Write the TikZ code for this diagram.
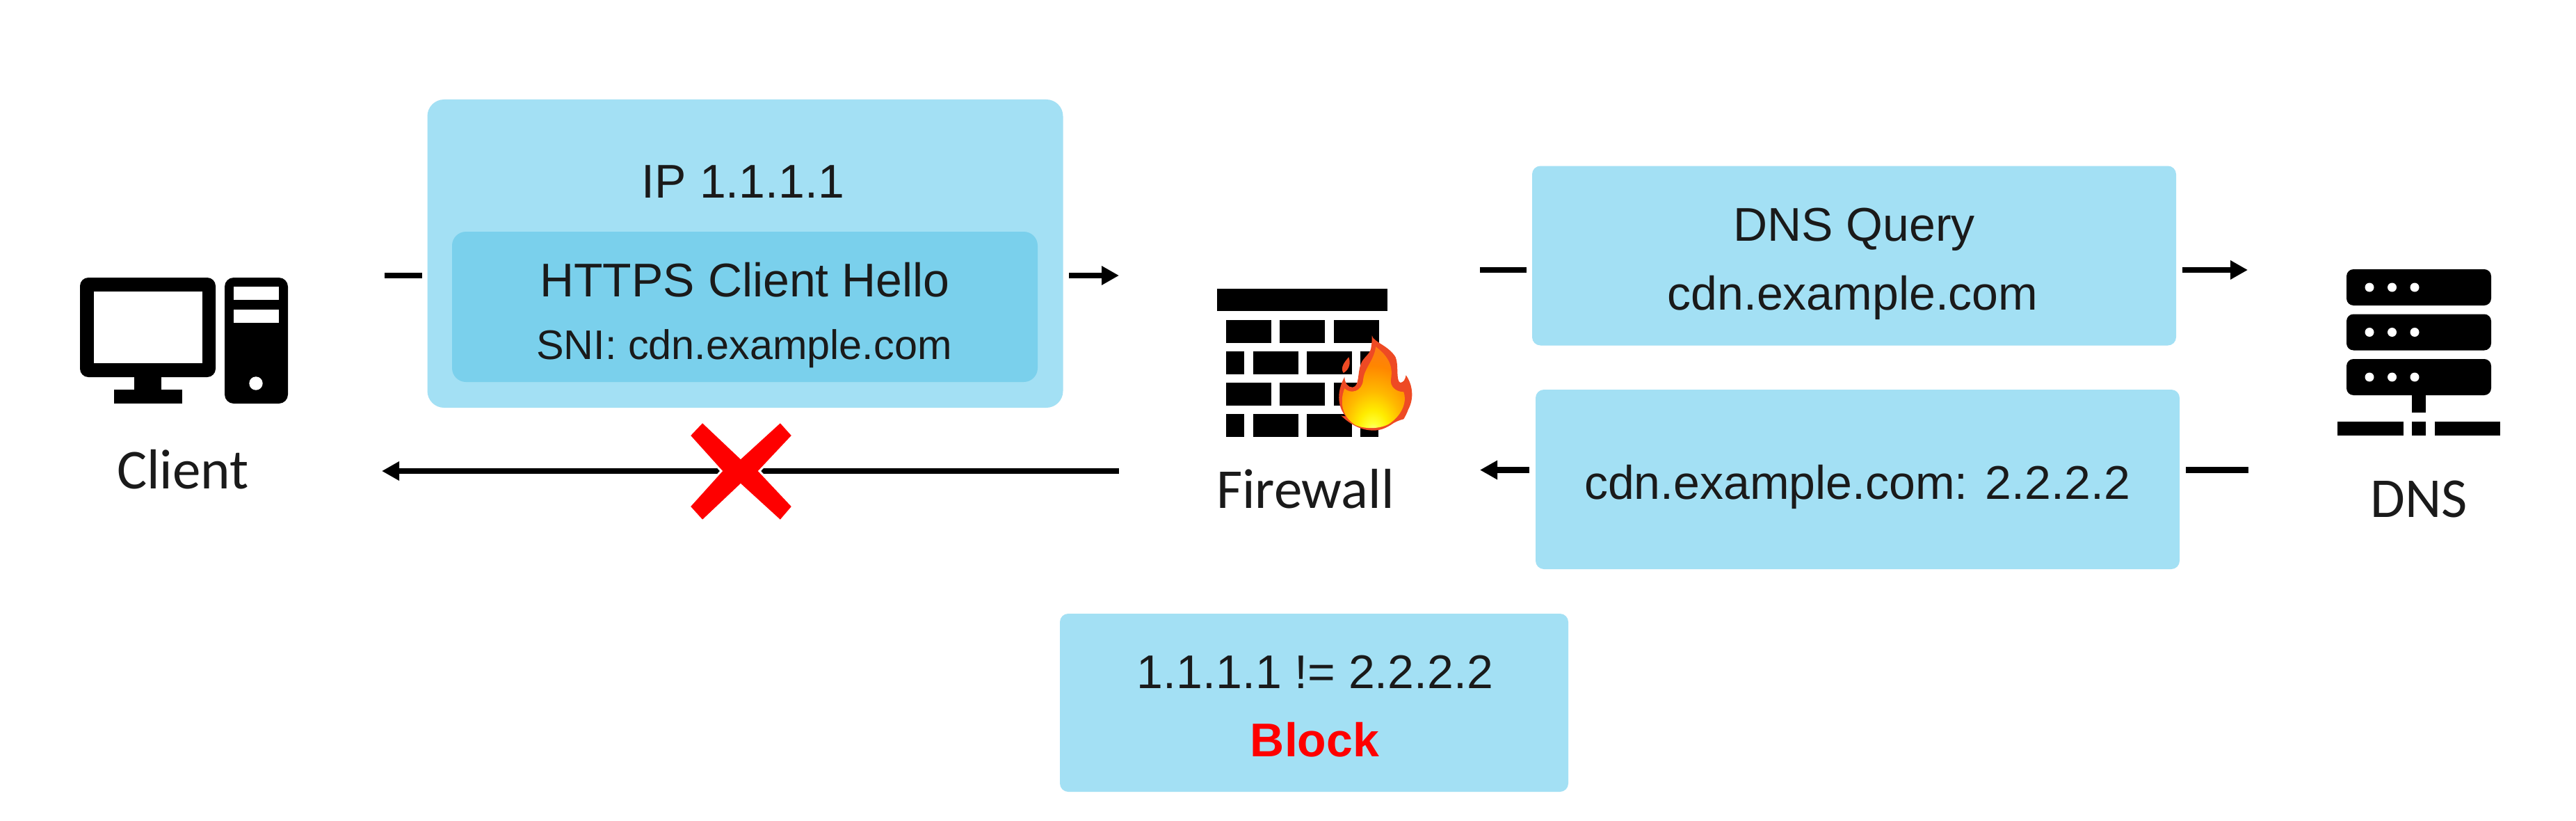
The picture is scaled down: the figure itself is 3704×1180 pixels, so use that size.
\documentclass[tikz,border=0pt]{standalone}
\usepackage{fontspec}
\setmainfont{Liberation Sans}
\newfontfamily\labelfont{Carlito}
\usetikzlibrary{arrows.meta}
\definecolor{boxblue}{HTML}{A3E0F4}
\definecolor{innerblue}{HTML}{7AD0EC}
\definecolor{ink}{HTML}{1A1A1A}
\definecolor{blockred}{HTML}{FE0000}
\definecolor{flameedge}{HTML}{EE4A24}
\definecolor{flameorange}{HTML}{F9752A}
\pgfdeclareradialshading{flamecore}{\pgfpoint{0bp}{-27bp}}{
  color(0bp)=(white!70!yellow);
  color(5bp)=(white!20!yellow);
  color(11bp)=(yellow!85!orange);
  color(20bp)=(orange!55!yellow);
  color(32bp)=(orange!95!yellow);
  color(50bp)=(flameorange);
  color(100bp)=(flameorange)}
\tikzset{
  panel/.style={fill=boxblue,draw=none,rounded corners=12pt,inner sep=0pt},
  outerpanel/.style={panel,rounded corners=24pt},
  innerpanel/.style={panel,fill=innerblue,rounded corners=20pt},
  msg/.style={anchor=base,inner sep=0pt,text=ink,font=\fontsize{68}{80}\selectfont},
  sni/.style={msg,font=\fontsize{59.4}{70}\selectfont},
  blocktext/.style={msg,text=blockred,font=\bfseries\fontsize{68}{80}\selectfont},
  iconlabel/.style={anchor=base,inner sep=0pt,text=ink,font=\labelfont\fontsize{81}{96}\selectfont},
  flow/.style={draw=black,line width=8.5pt},
  flowarrow/.style={flow,-{Triangle[length=25pt,width=26pt]}},
  brick/.style={fill=black,draw=none}
}
\begin{document}
\begin{tikzpicture}[x=1pt,y=-1pt]
\useasboundingbox (0,0) rectangle (3704,1180);
\fill[white] (0,0) rectangle (3704,1180);

% panels
\node[outerpanel,minimum width=914pt,minimum height=443pt] (ip) at (1071.5,364.5) {};
\node[innerpanel,minimum width=842pt,minimum height=216pt] (hello) at (1071,441) {};
\node[panel,minimum width=926pt,minimum height=258pt] (query) at (2666,367.5) {};
\node[panel,minimum width=926pt,minimum height=258pt] (answer) at (2671,689) {};
\node[panel,minimum width=731pt,minimum height=256pt] (verdict) at (1889.5,1010) {};

% panel texts
\node[msg] (iptext) at (1068.5,284) {IP 1.1.1.1};
\node[msg] (hellotext) at (1071,426) {HTTPS Client Hello};
\node[sni] (snitext) at (1070,516) {SNI: cdn.example.com};
\node[msg] (querytext) at (2666,346) {DNS Query};
\node[msg] (querydomain) at (2664,445) {cdn.example.com};
\node[msg] (answertext) at (2670.5,717) {cdn.example.com: 2.2.2.2};
\node[msg] (comparetext) at (1891,989) {1.1.1.1 != 2.2.2.2};
\node[blocktext] (blockword) at (1890.5,1087) {Block};

% connector end points
\coordinate (c1a) at (553,396);  \coordinate (c1b) at (607,396);
\coordinate (c2a) at (1537,396); \coordinate (c2b) at (1609,396);
\coordinate (c3a) at (2128,388); \coordinate (c3b) at (2195,388);
\coordinate (c4a) at (3138,388); \coordinate (c4b) at (3232,388);
\coordinate (c5a) at (3233,675.5); \coordinate (c5b) at (3142.5,675.5);
\coordinate (c6a) at (2199,675.5); \coordinate (c6b) at (2128,675.5);
\coordinate (c7a) at (1609,677); \coordinate (c7b) at (549,677);

\draw[flow] (c1a) -- (c1b);
\draw[flowarrow] (c2a) -- (c2b);
\draw[flow] (c3a) -- (c3b);
\draw[flowarrow] (c4a) -- (c4b);
\draw[flow] (c5a) -- (c5b);
\draw[flowarrow] (c6a) -- (c6b);
\draw[flowarrow] (c7a) -- (c7b);

% red cross
\fill[blockred,draw=white,line width=3pt,line join=miter]
  (1010,606) -- (1065,658) -- (1122,606) -- (1140,626) -- (1092,677) -- (1140,728)
  -- (1122,749) -- (1065,697) -- (1010,749) -- (991,728) -- (1037,677) -- (991,626) -- cycle;

% client icon
\fill[black,rounded corners=12pt] (115,399) rectangle (310,542);
\fill[white] (135,419) rectangle (290.5,522);
\fill[black] (193,541) rectangle (232,561);
\fill[black] (164,560) rectangle (262,580);
\fill[black,rounded corners=13pt] (323,399) rectangle (414,580);
\fill[white] (336,412) rectangle (401,431);
\fill[white] (336,445) rectangle (401,464);
\fill[white] (368,551) circle (9.7);
\node[iconlabel] (clientlabel) at (263,702) {Client};

% firewall icon
\fill[brick] (1750,415) rectangle (1995,447);
\foreach \y in {460,550}{
  \fill[brick] (1763,\y) rectangle +(65,32.5);
  \fill[brick] (1840,\y) rectangle +(65,32.5);
  \fill[brick] (1918,\y) rectangle +(64.5,32.5);
}
\foreach \y in {505,595}{
  \fill[brick] (1763,\y) rectangle +(26,32.5);
  \fill[brick] (1802,\y) rectangle +(64.5,32.5);
  \fill[brick] (1879,\y) rectangle +(65,32.5);
  \fill[brick] (1956,\y) rectangle +(26,32.5);
}
\node[iconlabel] (firewalllabel) at (1877,730) {Firewall};

% flame (coordinates in 3x crop pixels)
\begin{scope}[x=0.33333pt,y=-0.33333pt,shift={(4950,1050)}]
  \fill[flameedge] (968,397)
    .. controls (975,425) and (1040,440) .. (1070,490)
    .. controls (1085,525) and (1070,590) .. (1090,600)
    .. controls (1105,600) and (1112,585) .. (1115,568)
    .. controls (1145,610) and (1150,670) .. (1125,715)
    .. controls (1120,730) and (1112,745) .. (1105,757)
    .. controls (1085,762) and (1065,770) .. (1050,782)
    .. controls (1020,800) and (1000,806) .. (975,806)
    .. controls (925,806) and (880,785) .. (835,742)
    .. controls (845,745) and (850,745) .. (855,745)
    .. controls (825,710) and (810,650) .. (850,575)
    .. controls (850,600) and (865,622) .. (885,620)
    .. controls (915,615) and (905,560) .. (920,520)
    .. controls (930,490) and (965,475) .. (965,445)
    .. controls (968,430) and (968,415) .. (968,397) -- cycle;
  \fill[flameedge] (868,490)
    .. controls (878,515) and (870,545) .. (845,558)
    .. controls (830,535) and (850,510) .. (868,490) -- cycle;
  \shade[shading=flamecore] (985,445)
    .. controls (1030,480) and (1062,520) .. (1050,585)
    .. controls (1045,620) and (1075,640) .. (1105,640)
    .. controls (1120,680) and (1100,735) .. (1050,772)
    .. controls (1020,797) and (945,805) .. (895,782)
    .. controls (845,750) and (825,690) .. (850,625)
    .. controls (875,650) and (925,640) .. (930,590)
    .. controls (935,535) and (975,510) .. (985,445) -- cycle;
\end{scope}

% DNS icon
\foreach \y in {387,451.5,516}{
  \fill[black,rounded corners=10pt] (3374,\y) rectangle +(208,52);
  \foreach \x in {3407,3439.5,3472}{
    \fill[white] (\x,\y+26) circle (6.5);
  }
}
\fill[black] (3468,566) rectangle (3488,593);
\fill[black] (3361,606) rectangle (3456,626);
\fill[black] (3468,606) rectangle (3488,626);
\fill[black] (3501,606) rectangle (3595,626);
\node[iconlabel] (dnslabel) at (3478,743) {DNS};
\end{tikzpicture}
\end{document}
